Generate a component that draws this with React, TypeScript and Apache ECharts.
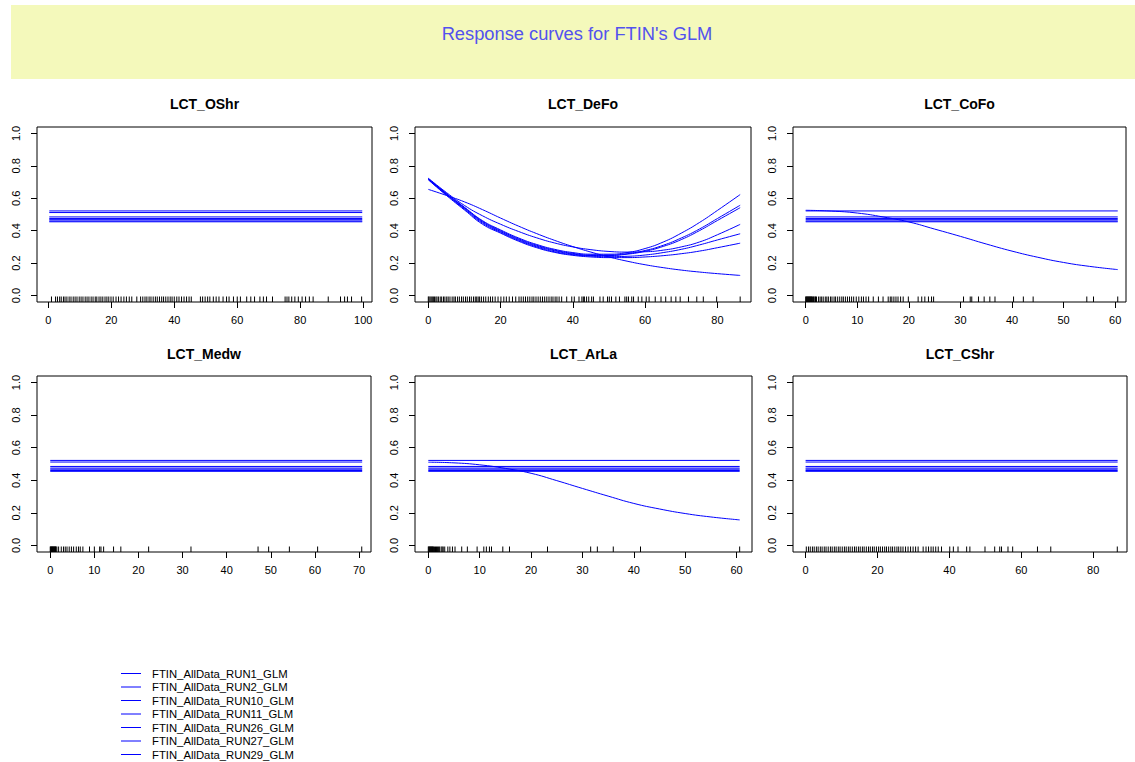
import React, { useEffect, useRef } from "react";
import * as echarts from "echarts";

// ---------- data ----------
const runNames = [
  "FTIN_AllData_RUN1_GLM",
  "FTIN_AllData_RUN2_GLM",
  "FTIN_AllData_RUN10_GLM",
  "FTIN_AllData_RUN11_GLM",
  "FTIN_AllData_RUN26_GLM",
  "FTIN_AllData_RUN27_GLM",
  "FTIN_AllData_RUN29_GLM",
];
const panelNames = ["LCT_OShr", "LCT_DeFo", "LCT_CoFo", "LCT_Medw", "LCT_ArLa", "LCT_CShr"];

// flat response level of each run (variable not used by the run)
const flatLevels = [0.522, 0.46, 0.485, 0.475, 0.512, 0.468, 0.455];

// data range of each variable
const dataRanges = [
  [0.3, 99.7],
  [0, 86.3],
  [0, 60.5],
  [0, 70.7],
  [0, 60.6],
  [0, 86.8],
];

const xTicks = [
  [0, 20, 40, 60, 80, 100],
  [0, 20, 40, 60, 80],
  [0, 10, 20, 30, 40, 50, 60],
  [0, 10, 20, 30, 40, 50, 60, 70],
  [0, 10, 20, 30, 40, 50, 60],
  [0, 20, 40, 60, 80],
];
const yTicks = [0, 0.2, 0.4, 0.6, 0.8, 1.0];

// LCT_DeFo response curves
const defoX = [0, 5, 10, 15, 20, 25, 30, 35, 40, 45, 50, 55, 60, 65, 70, 75, 80, 86.3];
const defoRun1 = [0.724, 0.636, 0.556, 0.492, 0.44, 0.395, 0.356, 0.324, 0.3, 0.283, 0.272, 0.268, 0.27, 0.28, 0.3, 0.33, 0.375, 0.439];
const defoRun2 = [0.722, 0.63, 0.545, 0.462, 0.405, 0.355, 0.315, 0.285, 0.265, 0.255, 0.255, 0.265, 0.29, 0.33, 0.385, 0.45, 0.525, 0.623];
const defoRun10 = [0.72, 0.628, 0.542, 0.458, 0.4, 0.35, 0.31, 0.28, 0.26, 0.25, 0.25, 0.258, 0.278, 0.31, 0.355, 0.41, 0.475, 0.557];
const defoRun11 = [0.718, 0.625, 0.538, 0.453, 0.395, 0.345, 0.305, 0.276, 0.256, 0.247, 0.247, 0.255, 0.273, 0.303, 0.345, 0.4, 0.463, 0.542];
const defoRun26 = [0.655, 0.618, 0.578, 0.53, 0.478, 0.428, 0.382, 0.34, 0.302, 0.268, 0.238, 0.212, 0.19, 0.172, 0.157, 0.145, 0.135, 0.124];
const defoRun27 = [0.716, 0.622, 0.533, 0.447, 0.39, 0.34, 0.3, 0.27, 0.252, 0.243, 0.24, 0.242, 0.25, 0.265, 0.285, 0.312, 0.343, 0.381];
const defoRun29 = [0.714, 0.618, 0.528, 0.44, 0.385, 0.335, 0.295, 0.266, 0.248, 0.238, 0.234, 0.234, 0.238, 0.246, 0.258, 0.274, 0.295, 0.323];
const defoCurves = [defoRun1, defoRun2, defoRun10, defoRun11, defoRun26, defoRun27, defoRun29];

// LCT_CoFo and LCT_ArLa: only RUN26 responds
const cofoX = [0, 5, 10, 15, 20, 25, 30, 35, 40, 45, 50, 55, 60.5];
const cofoRun26 = [0.526, 0.521, 0.509, 0.485, 0.454, 0.41, 0.365, 0.318, 0.274, 0.236, 0.204, 0.18, 0.16];
const arlaX = [0, 5, 10, 15, 20, 25, 30, 35, 40, 45, 50, 55, 60.6];
const arlaRun26 = [0.511, 0.507, 0.495, 0.473, 0.443, 0.398, 0.35, 0.303, 0.258, 0.224, 0.196, 0.175, 0.157];

// rug (observed values) per variable
const rugOShr = [1.0, 2.3, 2.9, 3.6, 4.1, 4.8, 5.3, 5.9, 6.6, 7.2, 7.9, 8.5, 9.1, 9.8, 10.4, 11.0, 11.7, 12.3, 12.9, 13.6, 14.2, 14.9, 15.4, 16.1, 16.7, 17.3, 18.0, 18.6, 19.2, 19.9, 20.6, 21.5, 22.3, 23.1, 24.0, 24.8, 25.7, 26.5, 28.1, 29.3, 30.0, 30.7, 31.3, 32.0, 32.6, 33.3, 34.0, 34.6, 35.3, 36.0, 36.6, 37.3, 38.0, 38.7, 39.3, 40.0, 40.8, 41.5, 42.3, 43.1, 43.9, 44.7, 45.4, 48.3, 49.0, 49.8, 50.6, 51.3, 52.4, 53.3, 54.2, 55.5, 56.6, 57.4, 58.8, 60.0, 61.0, 63.0, 64.3, 65.5, 67.2, 68.3, 69.3, 71.2, 75.2, 75.8, 76.4, 77.3, 78.3, 79.4, 80.6, 81.7, 82.9, 84.1, 88.9, 92.8, 94.1, 95.0, 96.3, 99.5];
const rugDeFo = [0, 0.2, 0.5, 0.8, 1.1, 1.4, 1.7, 2.1, 2.4, 2.8, 3.3, 3.7, 4.2, 4.6, 5.1, 5.5, 6.0, 6.6, 7.1, 7.5, 8.1, 8.6, 9.2, 9.7, 10.3, 10.8, 11.4, 11.9, 12.5, 13.0, 13.4, 13.8, 14.2, 14.7, 15.3, 15.9, 16.6, 17.2, 17.8, 18.5, 19.3, 20.1, 20.9, 21.6, 22.4, 23.3, 24.2, 25.1, 25.7, 26.3, 26.9, 27.5, 28.1, 28.7, 29.2, 29.8, 30.4, 31.0, 31.6, 32.2, 32.8, 33.4, 34.0, 34.5, 35.1, 35.6, 36.2, 36.9, 38.3, 39.7, 40.4, 41.7, 42.5, 42.9, 43.2, 43.8, 44.4, 45.2, 45.7, 47.5, 48.4, 49.6, 50.1, 50.7, 51.9, 52.9, 54.4, 54.9, 55.4, 56.3, 56.8, 58.1, 59.1, 60.3, 61.1, 62.8, 64.4, 65.7, 67.2, 68.5, 69.7, 72.0, 74.3, 76.1, 79.8, 86.3];
const rugCoFo = [0, 0.1, 0.2, 0.3, 0.4, 0.5, 0.6, 0.7, 0.8, 0.9, 1.0, 1.1, 1.2, 1.3, 1.5, 1.6, 1.8, 1.9, 2.1, 2.5, 2.8, 3.1, 3.4, 3.8, 4.1, 4.4, 4.8, 5.1, 5.5, 5.8, 6.2, 6.6, 7.0, 7.3, 7.7, 8.1, 8.5, 8.9, 9.3, 9.8, 10.3, 10.8, 11.2, 11.7, 12.2, 13.1, 14.1, 15.0, 16.0, 16.4, 16.7, 17.1, 17.5, 17.9, 18.4, 18.9, 19.9, 21.8, 22.5, 23.1, 23.8, 24.4, 24.8, 30.6, 31.9, 32.2, 33.5, 34.6, 35.7, 36.7, 40.3, 42.2, 44.1, 54.5, 55.8, 60.5];
const rugMedw = [0, 0.1, 0.2, 0.3, 0.4, 0.5, 0.6, 0.7, 0.8, 0.9, 1.0, 1.1, 1.2, 1.3, 1.5, 1.9, 2.5, 3.0, 3.4, 3.8, 4.3, 4.8, 5.3, 5.9, 6.4, 6.8, 7.4, 8.9, 10.0, 11.2, 11.5, 12.1, 14.35, 16.0, 22.3, 31.9, 47.1, 49.5, 54.2, 60.6, 70.6];
const rugArLa = [0, 0.1, 0.2, 0.3, 0.4, 0.5, 0.6, 0.7, 0.8, 0.9, 1.0, 1.2, 1.4, 1.6, 1.8, 2.0, 2.2, 2.5, 2.7, 2.9, 3.2, 3.8, 4.2, 4.7, 5.2, 6.5, 7.6, 9.5, 10.8, 11.3, 11.9, 12.3, 14.5, 15.8, 23.2, 31.6, 32.9, 36.0, 41.3, 60.6];
const rugCShr = [0.2, 0.8, 1.3, 1.9, 2.4, 3.0, 3.5, 4.1, 4.6, 5.2, 5.7, 6.3, 6.9, 7.4, 8.0, 8.5, 9.1, 9.6, 10.2, 10.8, 11.3, 11.9, 12.4, 13.0, 13.6, 14.1, 14.7, 15.2, 15.8, 16.3, 16.9, 17.5, 18.0, 18.6, 19.1, 19.7, 20.3, 20.8, 21.4, 22.0, 22.5, 23.1, 23.7, 24.2, 24.8, 25.4, 25.9, 26.5, 27.1, 27.8, 28.5, 29.2, 29.9, 30.6, 31.3, 32.7, 33.5, 34.2, 34.9, 35.5, 36.2, 36.9, 37.8, 40.1, 41.1, 42.4, 44.8, 45.7, 49.9, 52.6, 54.0, 54.5, 56.3, 57.6, 64.5, 68.2, 86.7];
const rugs = [rugOShr, rugDeFo, rugCoFo, rugMedw, rugArLa, rugCShr];

// ---------- layout ----------
const grids = [
  { left: 37, top: 127, width: 335, height: 175 },
  { left: 415, top: 127, width: 336, height: 175 },
  { left: 793, top: 127, width: 333, height: 175 },
  { left: 37, top: 376, width: 334, height: 176 },
  { left: 415, top: 376, width: 337, height: 176 },
  { left: 793, top: 376, width: 334, height: 176 },
];
const xLimits = [
  [-3.6, 102.8],
  [-3.68, 89.3],
  [-2.46, 62.1],
  [-3.0, 72.7],
  [-2.59, 63.0],
  [-3.5, 89.4],
];
const Y_MIN = -0.04;
const Y_MAX = 1.04;
const FONT = "'Liberation Sans', Arial, Helvetica, sans-serif";
const BLUE = "#0000ff";
const LEGEND_X = 121;
const LEGEND_Y0 = 673.5;
const LEGEND_DY = 13.5;

function buildOption() {
  const series: any[] = [];
  grids.forEach((_, p) => {
    runNames.forEach((name, r) => {
      let data: number[][];
      let smooth = false;
      if (p === 1) {
        data = defoX.map((x, i) => [x, defoCurves[r][i]]);
        smooth = true;
      } else if (p === 2 && r === 4) {
        data = cofoX.map((x, i) => [x, cofoRun26[i]]);
        smooth = true;
      } else if (p === 4 && r === 4) {
        data = arlaX.map((x, i) => [x, arlaRun26[i]]);
        smooth = true;
      } else {
        data = [
          [dataRanges[p][0], flatLevels[r]],
          [dataRanges[p][1], flatLevels[r]],
        ];
      }
      series.push({
        type: "line",
        name,
        xAxisIndex: p,
        yAxisIndex: p,
        data,
        smooth,
        symbol: "none",
        showSymbol: false,
        silent: true,
        lineStyle: { color: BLUE, width: 1 },
        itemStyle: { color: BLUE },
        emphasis: { disabled: true },
      });
    });
    series.push({
      type: "custom",
      name: "rug" + p,
      xAxisIndex: p,
      yAxisIndex: p,
      silent: true,
      clip: false,
      data: rugs[p].map((v) => [v, Y_MIN]),
      renderItem: (params: any, api: any) => {
        const pt = api.coord([api.value(0), Y_MIN]);
        return {
          type: "line",
          shape: { x1: pt[0], y1: pt[1], x2: pt[0], y2: pt[1] - 5.5 },
          style: { stroke: "#000", lineWidth: 1 },
        };
      },
    });
  });

  const graphic: any[] = [
    {
      type: "rect",
      z: -10,
      shape: { x: 11, y: 5, width: 1124, height: 74 },
      style: { fill: "#f4f9bb" },
      silent: true,
    },
    {
      type: "text",
      x: 577,
      y: 33,
      style: {
        text: "Response curves for FTIN's GLM",
        fill: "#5252ee",
        font: `18.3px ${FONT}`,
        textAlign: "center",
        textVerticalAlign: "middle",
      },
      silent: true,
    },
  ];
  grids.forEach((g, p) => {
    graphic.push({
      type: "text",
      x: g.left + g.width / 2,
      y: p < 3 ? 103.5 : 353.5,
      style: {
        text: panelNames[p],
        fill: "#000",
        font: `bold 14px ${FONT}`,
        textAlign: "center",
        textVerticalAlign: "middle",
      },
      silent: true,
    });
  });
  // legend (built from the run names)
  runNames.forEach((name, r) => {
    const y = LEGEND_Y0 + r * LEGEND_DY;
    graphic.push({
      type: "line",
      shape: { x1: LEGEND_X, y1: y, x2: LEGEND_X + 20, y2: y },
      style: { stroke: BLUE, lineWidth: 1 },
      silent: true,
    });
    graphic.push({
      type: "text",
      x: LEGEND_X + 31,
      y,
      style: {
        text: name,
        fill: "#000",
        font: `11.3px ${FONT}`,
        textAlign: "left",
        textVerticalAlign: "middle",
      },
      silent: true,
    });
  });

  return {
    animation: false,
    backgroundColor: "#ffffff",
    grid: grids.map((g) => ({
      ...g,
      show: true,
      borderColor: "#000",
      borderWidth: 1,
      backgroundColor: "transparent",
      containLabel: false,
    })),
    xAxis: grids.map((_, p) => ({
      type: "value",
      gridIndex: p,
      position: "bottom",
      min: xLimits[p][0],
      max: xLimits[p][1],
      axisLine: { show: false, onZero: false },
      splitLine: { show: false },
      axisTick: {
        show: true,
        customValues: xTicks[p],
        length: 6,
        lineStyle: { color: "#000", width: 1 },
      },
      axisLabel: {
        show: true,
        customValues: xTicks[p],
        color: "#000",
        fontSize: 11,
        fontFamily: FONT,
        margin: 12,
        formatter: (v: number) => String(v),
      },
    })),
    yAxis: grids.map((_, p) => ({
      type: "value",
      gridIndex: p,
      position: "left",
      min: Y_MIN,
      max: Y_MAX,
      axisLine: { show: false, onZero: false },
      splitLine: { show: false },
      axisTick: {
        show: true,
        customValues: yTicks,
        length: 6,
        lineStyle: { color: "#000", width: 1 },
      },
      axisLabel: {
        show: true,
        customValues: yTicks,
        color: "#000",
        fontSize: 11,
        fontFamily: FONT,
        rotate: 90,
        margin: 16,
        formatter: (v: number) => v.toFixed(1),
      },
    })),
    graphic,
    series,
  };
}

export default function App() {
  const ref = useRef<HTMLDivElement>(null);
  useEffect(() => {
    if (!ref.current) return;
    const chart = echarts.init(ref.current, undefined, { renderer: "svg" });
    chart.setOption(buildOption() as any);
    return () => chart.dispose();
  }, []);
  return (
    <div
      ref={ref}
      style={{ position: "absolute", left: 0, top: 0, width: 1135, height: 762 }}
    />
  );
}
